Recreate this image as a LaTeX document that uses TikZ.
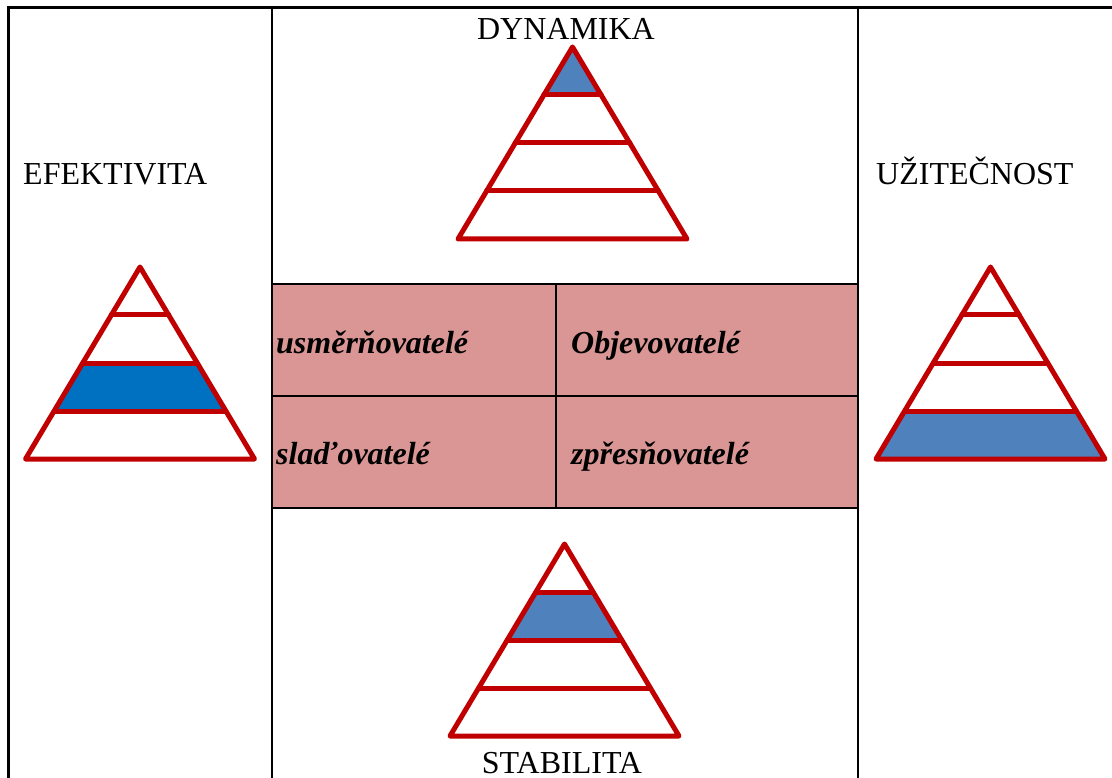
\documentclass[tikz,border=0pt]{standalone}
\usepackage{fontspec}
\setmainfont{Liberation Serif}
\definecolor{pyrred}{HTML}{C00000}
\definecolor{bandblue}{HTML}{4F81BD}
\definecolor{bandbright}{HTML}{0070C0}
\definecolor{cellpink}{HTML}{D99694}
\tikzset{
  rule/.style={draw=black, line width=2.5pt},
  frame/.style={draw=black, line width=3pt},
  pyrline/.style={draw=pyrred, line width=5pt, line join=round, line cap=round},
  head/.style={inner sep=0pt, font=\fontsize{32}{38}\selectfont},
  cell/.style={inner sep=0pt, anchor=base west, font=\fontsize{32}{38}\selectfont\bfseries\itshape},
  % four-band pyramid, apex at the pic origin; #1 = filled band (1 = top), #2 = its colour
  pics/pyramid/.style 2 args={code={
    \fill[#2] ({-114.5*(#1-1)/4},{48*(#1-1)}) -- ({114.5*(#1-1)/4},{48*(#1-1)})
      -- ({114.5*#1/4},{48*#1}) -- ({-114.5*#1/4},{48*#1}) -- cycle;
    \foreach \k in {1,2,3}
      \draw[pyrline] ({-114.5*\k/4},{48*\k}) -- ({114.5*\k/4},{48*\k});
    \draw[pyrline] (0,0) -- (114.5,192) -- (-114.5,192) -- cycle;
  }}
}
\begin{document}
\begin{tikzpicture}[x=1pt,y=-1pt]
\useasboundingbox (0,0) rectangle (1112,778);

% shaded middle rows
\fill[cellpink] (272,284) rectangle (858,508);

% table rules
\draw[frame] (8,778) -- (8,8) -- (1112,8);
\draw[rule] (272,8) -- (272,778);
\draw[rule] (858,8) -- (858,778);
\draw[rule] (272,284) -- (858,284);
\draw[rule] (272,396) -- (858,396);
\draw[rule] (272,508) -- (858,508);
\draw[rule] (556,284) -- (556,508);

% headings
\node[head, anchor=base] (dyn) at (566,40) {DYNAMIKA};
\node[head, anchor=base] (stab) at (562,773) {STABILITA};
\node[head, anchor=base west] (efek) at (23,185) {EFEKTIVITA};
\node[head, anchor=base west] (uzit) at (876,185) {UŽITEČNOST};

% role cells
\node[cell] (usm) at (276,353) {usměrňovatelé};
\node[cell] (obj) at (571,353) {Objevovatelé};
\node[cell] (slad) at (276,464) {slaďovatelé};
\node[cell] (zpr) at (571,464) {zpřesňovatelé};

% pyramids
\pic at (572.5,47) {pyramid={1}{bandblue}};
\pic at (140,267) {pyramid={3}{bandbright}};
\pic at (990.5,267) {pyramid={4}{bandblue}};
\pic at (564.5,544) {pyramid={2}{bandblue}};
\end{tikzpicture}
\end{document}
